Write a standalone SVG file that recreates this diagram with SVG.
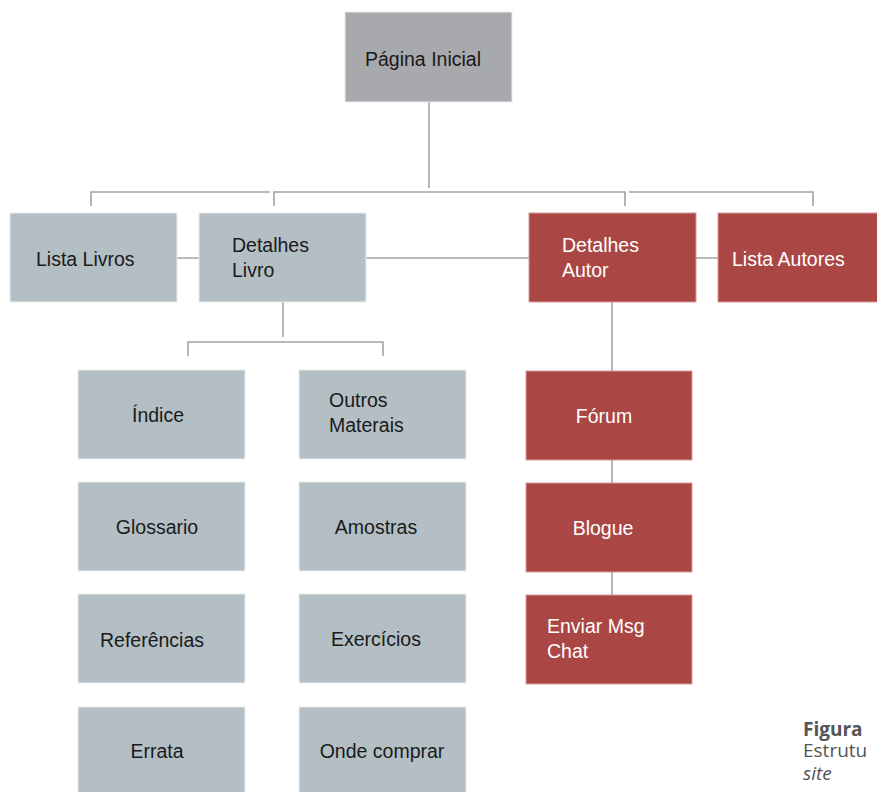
<svg xmlns="http://www.w3.org/2000/svg" width="877" height="792" viewBox="0 0 877 792">
<style>
.n rect{stroke:#e8ecee;stroke-width:1}
.g rect{fill:#a8a9ad}
.b rect{fill:#b3bfc5}
.r rect{fill:#aa4745;stroke:#d89a98}
text{font-family:"Liberation Sans",Arial,sans-serif;font-size:19.5px}
.g text,.b text{fill:#1a1a1a}
.r text{fill:#ffffff}
.c{stroke:#a3a3a3;stroke-width:1.6;fill:none}
.cap{font-family:"Open Sans","Noto Sans",sans-serif;font-size:19px;fill:#555}
</style>
<rect width="877" height="792" fill="#ffffff"/>
<g id="connectors" class="c">
<path d="M429 102V188"/>
<path d="M91 206V192H270"/>
<path d="M274 206V192H625V206"/>
<path d="M629 192H813V206"/>
<path d="M177 258H199M366 258H529M696 258H718"/>
<path d="M283 302V337"/>
<path d="M188 356V342H383V356"/>
<path d="M612 302V371M612 460V483M612 572V595"/>
</g>
<g id="pagina-inicial" class="n g"><rect x="345" y="12" width="167" height="90"/><text x="365" y="66">Página Inicial</text></g>
<g id="lista-livros" class="n b"><rect x="10" y="213" width="167" height="89"/><text x="36" y="266">Lista Livros</text></g>
<g id="detalhes-livro" class="n b"><rect x="199" y="213" width="167" height="89"/><text x="232" y="252">Detalhes</text><text x="232" y="277">Livro</text></g>
<g id="detalhes-autor" class="n r"><rect x="529" y="213" width="167" height="89"/><text x="562" y="252">Detalhes</text><text x="562" y="277">Autor</text></g>
<g id="lista-autores" class="n r"><rect x="718" y="213" width="167" height="89"/><text x="732" y="266">Lista Autores</text></g>
<g id="indice" class="n b"><rect x="78" y="370" width="167" height="89"/><text x="158" y="422" text-anchor="middle">Índice</text></g>
<g id="outros-materais" class="n b"><rect x="299" y="370" width="167" height="89"/><text x="329" y="407">Outros</text><text x="329" y="432">Materais</text></g>
<g id="glossario" class="n b"><rect x="78" y="482" width="167" height="89"/><text x="157" y="534" text-anchor="middle">Glossario</text></g>
<g id="amostras" class="n b"><rect x="299" y="482" width="167" height="89"/><text x="376" y="534" text-anchor="middle">Amostras</text></g>
<g id="referencias" class="n b"><rect x="78" y="594" width="167" height="89"/><text x="152" y="647" text-anchor="middle">Referências</text></g>
<g id="exercicios" class="n b"><rect x="299" y="594" width="167" height="89"/><text x="376" y="646" text-anchor="middle">Exercícios</text></g>
<g id="errata" class="n b"><rect x="78" y="707" width="167" height="89"/><text x="157" y="758" text-anchor="middle">Errata</text></g>
<g id="onde-comprar" class="n b"><rect x="299" y="707" width="167" height="89"/><text x="382" y="758" text-anchor="middle">Onde comprar</text></g>
<g id="forum" class="n r"><rect x="526" y="371" width="166" height="89"/><text x="604" y="423" text-anchor="middle">Fórum</text></g>
<g id="blogue" class="n r"><rect x="526" y="483" width="166" height="89"/><text x="603" y="535" text-anchor="middle">Blogue</text></g>
<g id="enviar-msg-chat" class="n r"><rect x="526" y="595" width="166" height="89"/><text x="547" y="633">Enviar Msg</text><text x="547" y="658">Chat</text></g>
<g id="caption">
<text class="cap" x="803" y="736" font-weight="bold">Figura</text>
<text class="cap" x="803" y="757">Estrutu</text>
<text class="cap" x="803" y="780" font-style="italic">site</text>
</g>
</svg>
